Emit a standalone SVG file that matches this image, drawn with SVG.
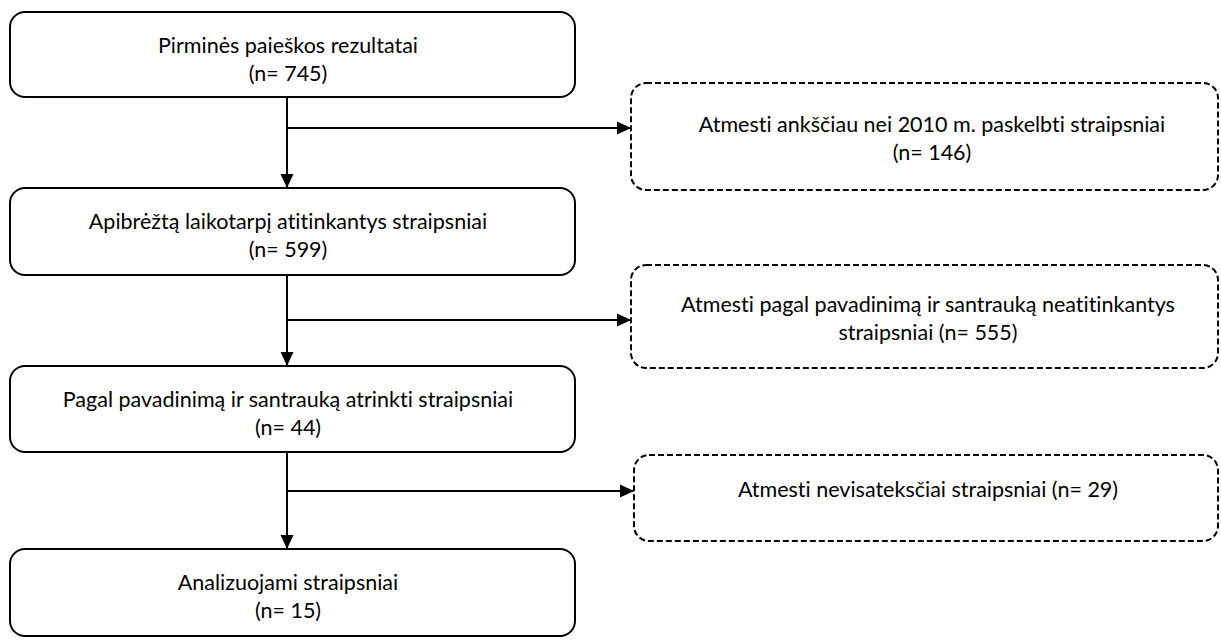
<svg xmlns="http://www.w3.org/2000/svg" width="1221" height="643" viewBox="0 0 1221 643">
<defs>
<marker id="arr" markerWidth="14" markerHeight="14" refX="13" refY="6.5" orient="auto" markerUnits="userSpaceOnUse" viewBox="0 0 14 13">
<path d="M0,0 L14,6.5 L0,13 z" fill="#000"/>
</marker>
<style>
.box{fill:#fff;stroke:#000;stroke-width:2}
.dbox{fill:#fff;stroke:#000;stroke-width:2;stroke-dasharray:6,3}
text{font-family:Lato,"Open Sans",sans-serif;font-size:21.5px;fill:#000;text-anchor:middle;font-variant-ligatures:none}
.c{fill:none;stroke:#000;stroke-width:2}
</style>
</defs>
<rect width="1221" height="643" fill="#fff"/>
<g id="connectors">
<path class="c" d="M287,97 V187" marker-end="url(#arr)"/>
<path class="c" d="M287,128 H630" marker-end="url(#arr)"/>
<path class="c" d="M287,275 V365" marker-end="url(#arr)"/>
<path class="c" d="M287,320 H630" marker-end="url(#arr)"/>
<path class="c" d="M287,452 V548" marker-end="url(#arr)"/>
<path class="c" d="M287,491 H633" marker-end="url(#arr)"/>
</g>
<g id="n1"><rect class="box" x="10" y="12" width="565" height="85" rx="15"/>
<text x="288" y="53">Pirminės paieškos rezultatai</text><text x="288" y="81">(n= 745)</text></g>
<g id="n2"><rect class="box" x="10" y="188" width="565" height="87" rx="15"/>
<text x="288" y="229">Apibrėžtą laikotarpį atitinkantys straipsniai</text><text x="288" y="257">(n= 599)</text></g>
<g id="n3"><rect class="box" x="10" y="366" width="565" height="86" rx="15"/>
<text x="288" y="407">Pagal pavadinimą ir santrauką atrinkti straipsniai</text><text x="288" y="435">(n= 44)</text></g>
<g id="n4"><rect class="box" x="10" y="549" width="565" height="87" rx="15"/>
<text x="288" y="590">Analizuojami straipsniai</text><text x="288" y="618">(n= 15)</text></g>
<g id="e1"><rect class="dbox" x="631" y="83" width="587" height="107" rx="15"/>
<text x="932" y="132">Atmesti ankščiau nei 2010 m. paskelbti straipsniai</text><text x="932" y="160">(n= 146)</text></g>
<g id="e2"><rect class="dbox" x="631" y="265" width="587" height="103" rx="15"/>
<text x="928" y="312">Atmesti pagal pavadinimą ir santrauką neatitinkantys</text><text x="928" y="340">straipsniai (n= 555)</text></g>
<g id="e3"><rect class="dbox" x="634" y="455" width="584" height="86" rx="15"/>
<text x="928" y="497">Atmesti nevisateksčiai straipsniai (n= 29)</text></g>
</svg>
